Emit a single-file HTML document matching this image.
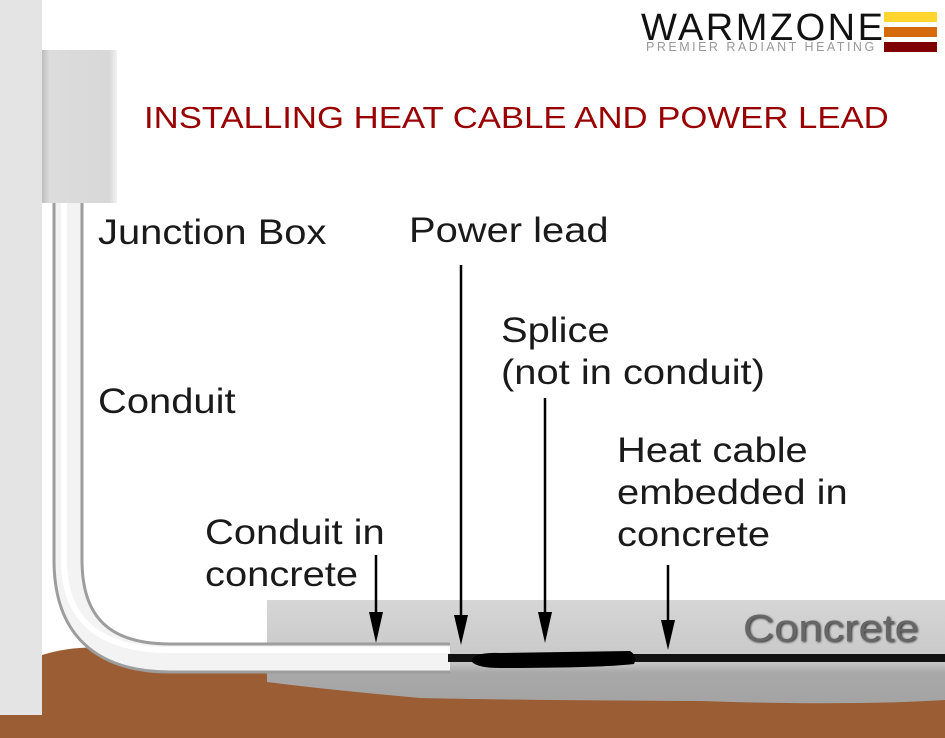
<!DOCTYPE html>
<html><head><style>
body{margin:0;width:945px;height:738px;overflow:hidden;background:#fff;position:relative;font-family:"Liberation Sans",sans-serif}
.t{position:absolute;color:#1a1a1a;font-size:35px;line-height:42px;transform:scaleX(1.14);transform-origin:0 0;white-space:nowrap}
</style></head><body>
<svg width="945" height="738" style="position:absolute;left:0;top:0">
<defs>
<linearGradient id="jb" x1="0" x2="1"><stop offset="0" stop-color="#bdbdbd"/><stop offset=".1" stop-color="#dcdcdc"/><stop offset=".9" stop-color="#d8d8d8"/><stop offset="1" stop-color="#f2f2f2"/></linearGradient>
<linearGradient id="cg" x1="0" y1="0" x2="0" y2="1"><stop offset="0" stop-color="#d6d6d6"/><stop offset=".6" stop-color="#c8c8c8"/><stop offset=".7" stop-color="#a9a9a9"/><stop offset="1" stop-color="#a3a3a3"/></linearGradient>
</defs>
<path d="M42 655 Q90 640 150 655 L267 660 L500 660 L500 738 L42 738Z" fill="#9a5d34"/>
<rect x="0" y="695" width="945" height="43" fill="#9a5d34"/>
<rect x="0" y="0" width="42" height="715" fill="#e4e4e4"/>
<path d="M267 600 L945 600 L945 700 Q850 706 700 701 Q500 700 420 698 Q330 690 267 682Z" fill="url(#cg)"/>
<rect x="42" y="50" width="75" height="153" fill="url(#jb)"/>
<path d="M68 203 L68 560 Q68 658 170 658 L450 658" fill="none" stroke="#9d9d9d" stroke-width="31"/>
<path d="M68 203 L68 560 Q68 658 170 658 L450 658" fill="none" stroke="#f3f3f3" stroke-width="25"/>
<path d="M64 203 L64 560 Q64 650 170 650 L450 650" fill="none" stroke="#fff" stroke-width="6"/>
<rect x="448" y="654" width="497" height="8" fill="#111"/>
<path d="M472 658 Q480 652 500 653 L630 651 Q638 656 634 664 Q600 668 500 668 Q478 668 472 662Z" fill="#000"/>
<g stroke="#000" stroke-width="2.5"><line x1="376" y1="555" x2="376" y2="625"/><line x1="461" y1="265" x2="461" y2="628"/><line x1="545" y1="398" x2="545" y2="625"/><line x1="668" y1="565" x2="668" y2="635"/></g>
<g fill="#000"><path d="M369 612 L383 612 L376 643Z"/><path d="M454 615 L468 615 L461 645Z"/><path d="M538 612 L552 612 L545 643Z"/><path d="M661 620 L675 620 L668 650Z"/></g>
<rect x="884" y="12" width="53" height="10" fill="#ffd52e"/><rect x="884" y="27" width="53" height="10" fill="#d46a0c"/><rect x="884" y="42" width="53" height="10" fill="#7e0000"/>
</svg>
<div style="position:absolute;left:641px;top:7px;font-size:38px;letter-spacing:2.5px;color:#111;font-weight:300">WARMZONE</div>
<div style="position:absolute;left:646px;top:40px;font-size:12.5px;letter-spacing:2.5px;color:#999">PREMIER RADIANT HEATING</div>
<div style="position:absolute;left:144px;top:100px;font-size:31px;color:#990000;transform:scaleX(1.12);transform-origin:0 0;white-space:nowrap">INSTALLING HEAT CABLE AND POWER LEAD</div>
<div class="t" style="left:98px;top:212px">Junction Box</div>
<div class="t" style="left:409px;top:210px">Power lead</div>
<div class="t" style="left:501px;top:310px">Splice<br>(not in conduit)</div>
<div class="t" style="left:98px;top:381px">Conduit</div>
<div class="t" style="left:617px;top:430px">Heat cable<br>embedded in<br>concrete</div>
<div class="t" style="left:205px;top:512px">Conduit in<br>concrete</div>
<div style="position:absolute;left:743px;top:608px;font-size:38px;color:#666;text-shadow:1px 1px 2px #333;transform:scaleX(1.14);transform-origin:0 0">Concrete</div>
</body></html>
